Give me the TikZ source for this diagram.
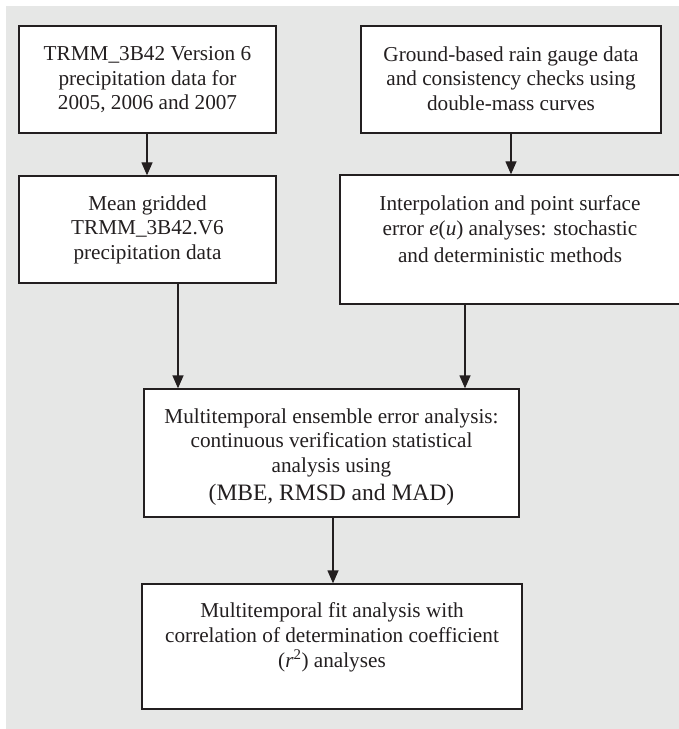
\documentclass[tikz,border=0pt]{standalone}
\usepackage{fontspec}
\setmainfont{Liberation Serif}
\usetikzlibrary{arrows.meta}
\definecolor{bgc}{RGB}{230,231,230}
\definecolor{ink}{RGB}{35,31,32}
\begin{document}
\begin{tikzpicture}[x=1bp,y=-1bp,
  boxnode/.style={draw=ink, line width=1.3bp, fill=white, rectangle, inner sep=0pt},
  txt/.style={inner sep=0pt, align=center, text=ink, anchor=north,
    font=\fontsize{21.3}{24.5}\selectfont},
  arr/.style={draw=ink, line width=1.3bp, -{Triangle[length=13bp,width=11bp]}}]
\clip (0,0) rectangle (679,729);
\path[use as bounding box] (0,0) rectangle (679,729);
\fill[bgc] (6,6) rectangle (679,729);
% boxes
\node[boxnode, minimum width=257bp, minimum height=107bp] (b1) at (147.5,79.5) {};
\node[boxnode, minimum width=257bp, minimum height=107bp] (b2) at (147.5,229.5) {};
\node[boxnode, minimum width=300bp, minimum height=107bp] (b3) at (511,79.5) {};
\node[boxnode, minimum width=340bp, minimum height=129bp] (b4) at (510,239.5) {};
\node[boxnode, minimum width=375bp, minimum height=128bp] (b5) at (331.5,453) {};
\node[boxnode, minimum width=380bp, minimum height=125bp] (b6) at (332,646.5) {};
% texts
\node[txt] (t1) at (147.5,46.5) {TRMM\_3B42 Version 6\\precipitation data for\\2005, 2006 and 2007};
\node[txt] (t2) at (147.5,195.5) {Mean gridded\\TRMM\_3B42.V6\\precipitation data};
\node[txt] (t3) at (511,46.5) {Ground-based rain gauge data\\and consistency checks using\\double-mass curves};
\node[txt] (t4) at (510,195.5) {Interpolation and point surface\\error \textit{e}(\textit{u}) analyses: stochastic\\[3pt]and deterministic methods};
\node[txt] (t5) at (331.5,408.5) {Multitemporal ensemble error analysis:\\continuous verification statistical\\analysis using\\[3.5pt]{\fontsize{23.6}{27}\selectfont (MBE, RMSD and MAD)}};
\node[txt, font=\fontsize{21.3}{25}\selectfont] (t6) at (332,602.5) {Multitemporal fit analysis with\\correlation of determination coefficient\\(\textit{r}\textsuperscript{2}) analyses};
% connectors
\draw[arr] ([xshift=-0.5bp]b1.south) -- ([xshift=-0.5bp]b1.south |- b2.north);
\draw[arr] (b3.south) -- (b3.south |- b4.north);
\draw[arr] ([xshift=30.5bp]b2.south) -- ([xshift=30.5bp]b2.south |- b5.north);
\draw[arr] ([xshift=-45bp]b4.south) -- ([xshift=-45bp]b4.south |- b5.north);
\draw[arr] ([xshift=1.5bp]b5.south) -- ([xshift=1.5bp]b5.south |- b6.north);
\end{tikzpicture}
\end{document}
